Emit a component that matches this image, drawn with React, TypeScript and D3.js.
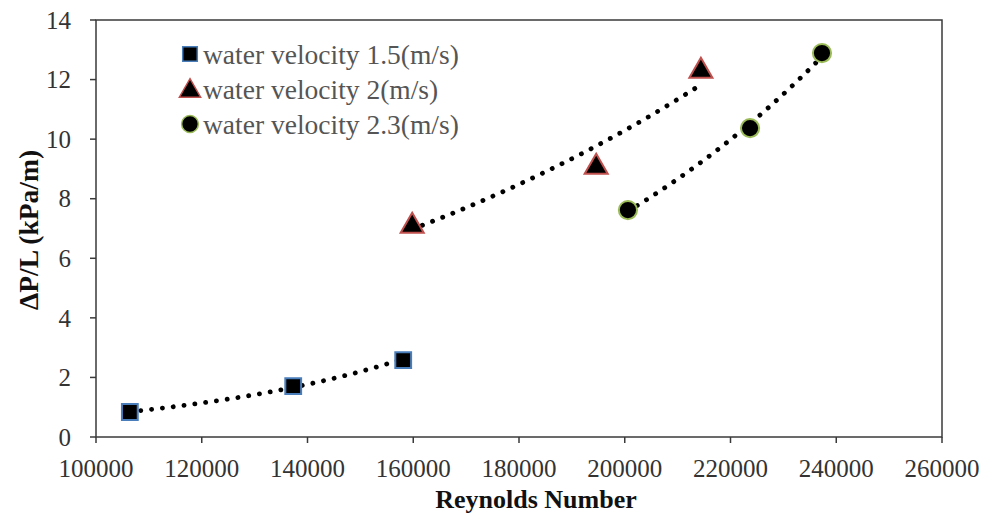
import React from "react";
import * as d3 from "d3";

const seriesNames = ["water velocity 1.5(m/s)", "water velocity 2(m/s)", "water velocity 2.3(m/s)"];
const reynolds15 = [106400, 137300, 158100];
const dpl15 = [0.84, 1.71, 2.58];
const reynolds20 = [159800, 194600, 214400];
const dpl20 = [7.15, 9.13, 12.35];
const reynolds23 = [200600, 223700, 237300];
const dpl23 = [7.62, 10.37, 12.89];
const xTicks = [100000, 120000, 140000, 160000, 180000, 200000, 220000, 240000, 260000];
const yTicks = [0, 2, 4, 6, 8, 10, 12, 14];

const W = 987, H = 517;
const x = d3.scaleLinear().domain([100000, 260000]).range([96, 942]);
const y = d3.scaleLinear().domain([0, 14]).range([437, 20]);

const strokes = ["#4a7ebb", "#c0504d", "#9bbb59"];
const shapes = [d3.symbolSquare, d3.symbolTriangle, d3.symbolCircle];
const sizes = [250, 230, 260];

function expFit(xs: number[], ys: number[]) {
  const n = xs.length;
  const ly = ys.map(Math.log);
  const mx = d3.mean(xs)!, my = d3.mean(ly)!;
  let num = 0, den = 0;
  for (let i = 0; i < n; i++) { num += (xs[i] - mx) * (ly[i] - my); den += (xs[i] - mx) ** 2; }
  const b = num / den;
  const a = Math.exp(my - b * mx);
  return (v: number) => a * Math.exp(b * v);
}

export default function App() {
  const series = [
    { xs: reynolds15, ys: dpl15 },
    { xs: reynolds20, ys: dpl20 },
    { xs: reynolds23, ys: dpl23 },
  ];
  const line = d3.line<[number, number]>().x(d => x(d[0])).y(d => y(d[1])).curve(d3.curveLinear);
  const font = "'Liberation Serif', 'Times New Roman', serif";
  return (
    <svg width={W} height={H} style={{ position: "absolute", left: 0, top: 0, background: "#fff" }}>
      {/* frame */}
      <rect x={x(100000)} y={y(14)} width={x(260000) - x(100000)} height={y(0) - y(14)} fill="none" stroke="#3a3a3a" strokeWidth={1.5} />
      {/* x ticks */}
      {xTicks.map(t => (
        <g key={"x" + t}>
          <line x1={x(t)} x2={x(t)} y1={y(0)} y2={y(0) + 6} stroke="#3a3a3a" strokeWidth={1.5} />
          <text x={x(t)} y={477} textAnchor="middle" fontFamily={font} fontSize={25} fill="#333">{t}</text>
        </g>
      ))}
      {yTicks.map(t => (
        <g key={"y" + t}>
          <line x1={x(100000) - 6} x2={x(100000)} y1={y(t)} y2={y(t)} stroke="#3a3a3a" strokeWidth={1.5} />
          <text x={71} y={y(t)} dy="0.35em" textAnchor="end" fontFamily={font} fontSize={25} fill="#333">{t}</text>
        </g>
      ))}
      {/* trendlines */}
      {series.map((s, i) => {
        const f = expFit(s.xs, s.ys);
        const [lo, hi] = d3.extent(s.xs) as [number, number];
        const pts: [number, number][] = d3.range(0, 41).map(k => {
          const v = lo + (hi - lo) * k / 40;
          return [v, f(v)];
        });
        return <path key={"t" + i} d={line(pts)!} fill="none" stroke="#000" strokeWidth={4.8} strokeLinecap="round" strokeDasharray="0.1 10.8" />;
      })}
      {/* markers */}
      {series.map((s, i) => s.xs.map((xv, j) => (
        <path key={"m" + i + "_" + j} transform={`translate(${x(xv)},${y(s.ys[j]) + (i === 1 ? 2 : 0)})`}
          d={d3.symbol().type(shapes[i]).size(sizes[i])()!} fill="#000" stroke={strokes[i]} strokeWidth={2} />
      )))}
      {/* legend */}
      {seriesNames.map((n, i) => (
        <g key={"l" + i} transform={`translate(190,${54 + i * 35})`}>
          <path transform={`translate(0,${i === 1 ? 2 : 0})`} d={d3.symbol().type(shapes[i]).size(sizes[i] * 0.85)()!} fill="#000" stroke={strokes[i]} strokeWidth={1.5} />
          <text x={13} y={0} dy="0.35em" fontFamily={font} fontSize={27.5} fill="#555">{n}</text>
        </g>
      ))}
      {/* axis titles */}
      <text x={536} y={508} textAnchor="middle" fontFamily={font} fontSize={26} fontWeight="bold" fill="#111">Reynolds Number</text>
      <text transform={`translate(38,230) rotate(-90)`} textAnchor="middle" fontFamily={font} fontSize={27.5} fontWeight="bold" fill="#111">ΔP/L (kPa/m)</text>
    </svg>
  );
}
